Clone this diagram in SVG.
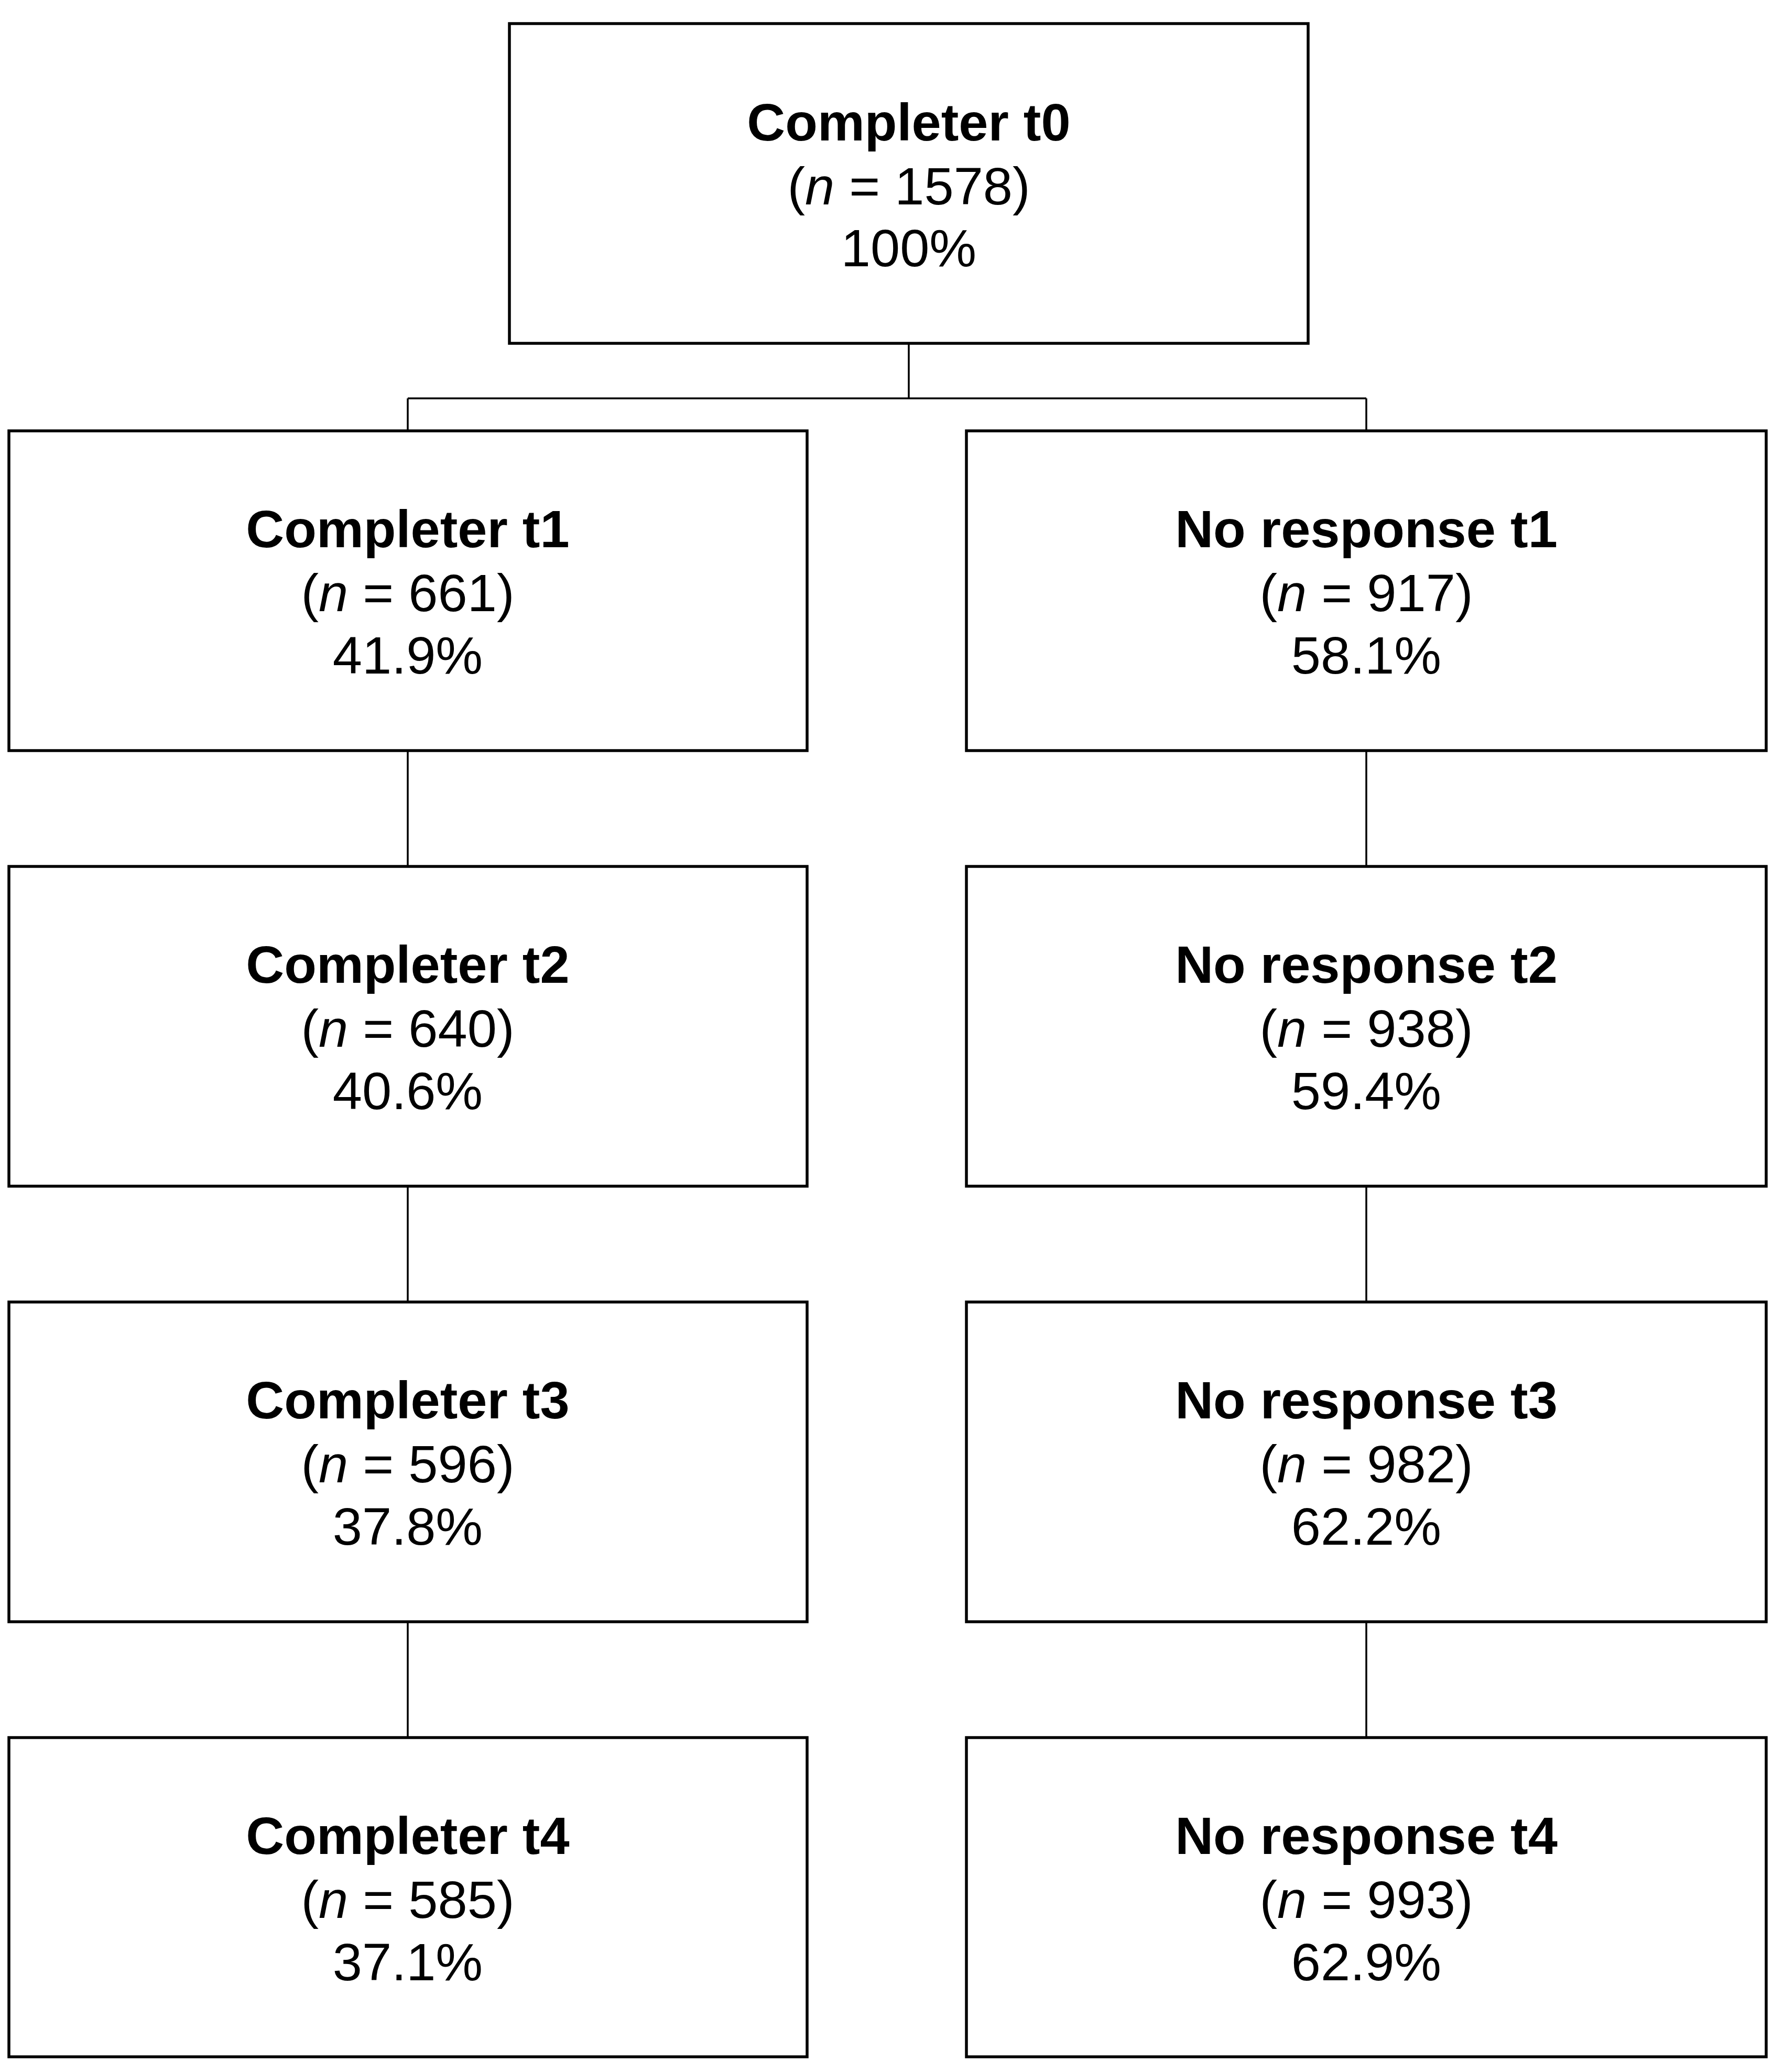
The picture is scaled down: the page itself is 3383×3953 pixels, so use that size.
<svg xmlns="http://www.w3.org/2000/svg" width="3383" height="3953" viewBox="0 0 3383 3953">
<style>
.box{fill:#fff;stroke:#000;stroke-width:5.5}
.con{fill:none;stroke:#000;stroke-width:3.5}
text{font-family:"Liberation Sans",Arial,sans-serif;font-size:101px;text-anchor:middle;fill:#000}
.t{font-weight:bold}
.i{font-style:italic}
</style>
<rect width="3383" height="3953" fill="#fff"/>
<g id="connectors">
<path class="con" d="M1734 655V760M778 760H2607M778 760V822M2607 760V822"/>
<path class="con" d="M778 1432V1653M778 2263V2484M778 3094V3315"/>
<path class="con" d="M2607 1432V1653M2607 2263V2484M2607 3094V3315"/>
</g>
<g id="n0"><rect class="box" x="972" y="45" width="1524" height="610"/>
<text x="1734" y="268" class="t">Completer t0</text><text x="1734" y="390">(<tspan class="i">n</tspan> = 1578)</text><text x="1734" y="508">100%</text></g>
<g id="c1"><rect class="box" x="17" y="822" width="1523" height="610"/>
<text x="778" y="1044" class="t">Completer t1</text><text x="778" y="1166">(<tspan class="i">n</tspan> = 661)</text><text x="778" y="1285">41.9%</text></g>
<g id="r1"><rect class="box" x="1844" y="822" width="1526" height="610"/>
<text x="2607" y="1044" class="t">No response t1</text><text x="2607" y="1166">(<tspan class="i">n</tspan> = 917)</text><text x="2607" y="1285">58.1%</text></g>
<g id="c2"><rect class="box" x="17" y="1653" width="1523" height="610"/>
<text x="778" y="1875" class="t">Completer t2</text><text x="778" y="1997">(<tspan class="i">n</tspan> = 640)</text><text x="778" y="2116">40.6%</text></g>
<g id="r2"><rect class="box" x="1844" y="1653" width="1526" height="610"/>
<text x="2607" y="1875" class="t">No response t2</text><text x="2607" y="1997">(<tspan class="i">n</tspan> = 938)</text><text x="2607" y="2116">59.4%</text></g>
<g id="c3"><rect class="box" x="17" y="2484" width="1523" height="610"/>
<text x="778" y="2706" class="t">Completer t3</text><text x="778" y="2828">(<tspan class="i">n</tspan> = 596)</text><text x="778" y="2947">37.8%</text></g>
<g id="r3"><rect class="box" x="1844" y="2484" width="1526" height="610"/>
<text x="2607" y="2706" class="t">No response t3</text><text x="2607" y="2828">(<tspan class="i">n</tspan> = 982)</text><text x="2607" y="2947">62.2%</text></g>
<g id="c4"><rect class="box" x="17" y="3315" width="1523" height="609"/>
<text x="778" y="3537" class="t">Completer t4</text><text x="778" y="3659">(<tspan class="i">n</tspan> = 585)</text><text x="778" y="3778">37.1%</text></g>
<g id="r4"><rect class="box" x="1844" y="3315" width="1526" height="609"/>
<text x="2607" y="3537" class="t">No response t4</text><text x="2607" y="3659">(<tspan class="i">n</tspan> = 993)</text><text x="2607" y="3778">62.9%</text></g>
</svg>
